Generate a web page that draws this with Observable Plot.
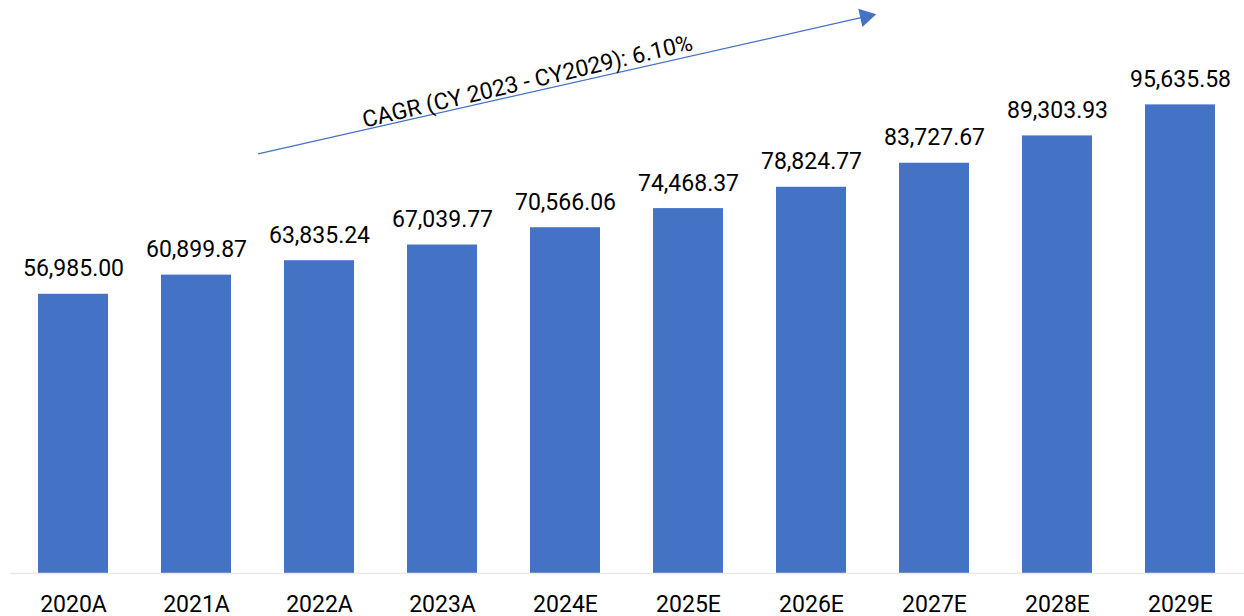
<!DOCTYPE html>
<html>
<head>
<meta charset="utf-8">
<script src="https://cdn.jsdelivr.net/npm/d3@7"></script>
<script src="https://cdn.jsdelivr.net/npm/@observablehq/plot@0.6"></script>
<style>
  html, body { margin: 0; padding: 0; background: #fff; }
  #chart svg { display: block; }
</style>
</head>
<body>
<div id="chart"></div>
<script>
const years = ["2020A", "2021A", "2022A", "2023A", "2024E", "2025E", "2026E", "2027E", "2028E", "2029E"];
const values = [56985.00, 60899.87, 63835.24, 67039.77, 70566.06, 74468.37, 78824.77, 83727.67, 89303.93, 95635.58];
const cagrLabel = ["CAGR (CY 2023 - CY2029): 6.10%"];
const arrowStart = ["2021A", 85650];
const arrowEnd = ["2026E", 113990];
const labelAt = ["2024E", 100400];

const data = years.map((year, i) => ({year, value: values[i]}));
const fmt = d3.format(",.2f");
const barColor = "#4472C4";
const font = "Roboto, 'Liberation Sans', sans-serif";

const step = 1234 / (years.length - 0.43 + 0.44);
const half = step / 2;

const chart = Plot.plot({
  width: 1244,
  height: 616,
  marginTop: 83,
  marginBottom: 43,
  marginLeft: 10,
  marginRight: 0,
  style: {fontFamily: font, fontSize: "23px", background: "#fff", overflow: "visible"},
  x: {domain: years, paddingInner: 0.43, paddingOuter: 0.22, label: null},
  y: {domain: [0, 100000], axis: null},
  marks: [
    Plot.barY(data, {x: "year", y: "value", fill: barColor}),
    Plot.ruleY([0], {stroke: "#e8e8e8", strokeWidth: 1.5}),
    Plot.axisX({tickSize: 0, tickPadding: 22, fontSize: 23, fill: "#000", label: null, style: {letterSpacing: "-1px"}}),
    Plot.text(data, {x: "year", y: "value", text: d => fmt(d.value), lineAnchor: "bottom", dy: -18, fontSize: 23, fill: "#000", style: {letterSpacing: "-1px"}}),
    Plot.link([{x1: arrowStart[0], y1: arrowStart[1], x2: arrowEnd[0], y2: arrowEnd[1]}], {x1: "x1", y1: "y1", x2: "x2", y2: "y2", dx: half, stroke: barColor, strokeWidth: 1.3}),
    Plot.dot([{x: arrowEnd[0], y: arrowEnd[1]}], {x: "x", y: "y", symbol: "triangle", r: 7, fill: barColor, stroke: "none", rotate: 77.4, dx: half - 7.5, dy: 1.7}),
    Plot.text(cagrLabel, {x: () => labelAt[0], y: () => labelAt[1], text: d => d, rotate: -13.3, dx: -38, fontSize: 23, fill: "#000", lineAnchor: "middle", textAnchor: "middle", style: {letterSpacing: "-1px"}})
  ]
});
document.getElementById("chart").append(chart);
</script>
</body>
</html>
